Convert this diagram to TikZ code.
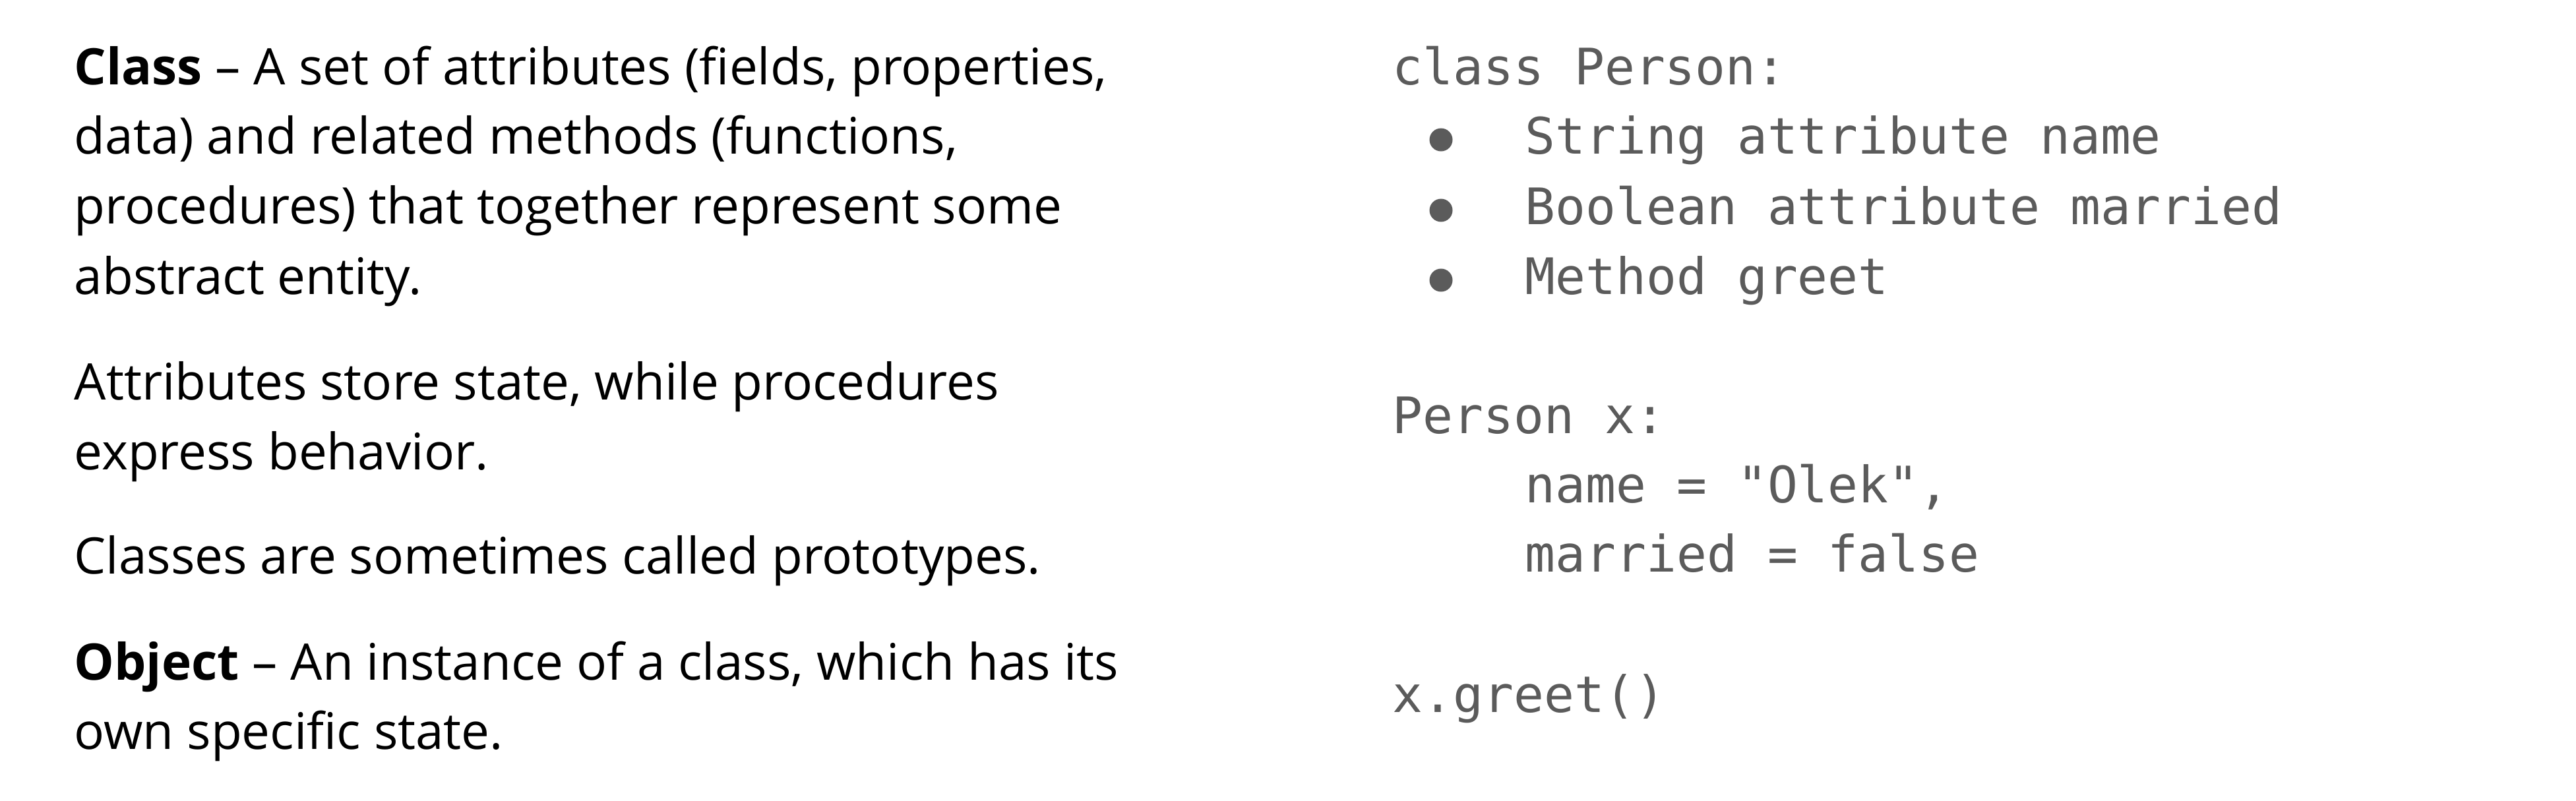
\documentclass[tikz,border=0pt]{standalone}
\usepackage{fontspec}
\setmainfont{Open Sans}
\setmonofont{DejaVu Sans Mono}
\definecolor{codegray}{HTML}{5B5B5B}
\tikzset{
  prose/.style={anchor=base west,inner sep=0pt,font=\fontsize{21.75}{30}\selectfont},
  code/.style={anchor=base west,inner sep=0pt,text=codegray,font=\fontsize{21.7}{30}\selectfont\ttfamily},
  dot/.style={circle,fill=codegray,inner sep=0pt,minimum size=0.35cm}
}
\begin{document}
\begin{tikzpicture}[scale=1]
\useasboundingbox (0,0) rectangle (39.06,-12.14);
% left column
\node[prose] (cls1) at (1.12,-1.28) {\textbf{Class} – A set of attributes (fields, properties,};
\node[prose] (cls2) at (1.12,-2.33) {data) and related methods (functions,};
\node[prose] (cls3) at (1.12,-3.39) {procedures) that together represent some};
\node[prose] (cls4) at (1.12,-4.46) {abstract entity.};
\node[prose] (att1) at (1.12,-6.06) {Attributes store state, while procedures};
\node[prose] (att2) at (1.12,-7.12) {express behavior.};
\node[prose] (proto) at (1.12,-8.70) {Classes are sometimes called prototypes.};
\node[prose] (obj1) at (1.12,-10.31) {\textbf{Object} – An instance of a class, which has its};
\node[prose] (obj2) at (1.12,-11.36) {own specific state.};
% right column
\node[code] (person) at (21.11,-1.28) {class Person:};
\node[dot] (b1) at (21.85,-2.12) {};
\node[code] (name) at (23.12,-2.33) {String attribute name};
\node[dot] (b2) at (21.85,-3.19) {};
\node[code] (married) at (23.12,-3.40) {Boolean attribute married};
\node[dot] (b3) at (21.85,-4.25) {};
\node[code] (greet) at (23.12,-4.46) {Method greet};
\node[code] (inst) at (21.11,-6.57) {Person x:};
\node[code] (val1) at (23.12,-7.62) {name = "Olek",};
\node[code] (val2) at (23.12,-8.67) {married = false};
\node[code] (call) at (21.11,-10.80) {x.greet()};
\end{tikzpicture}
\end{document}
